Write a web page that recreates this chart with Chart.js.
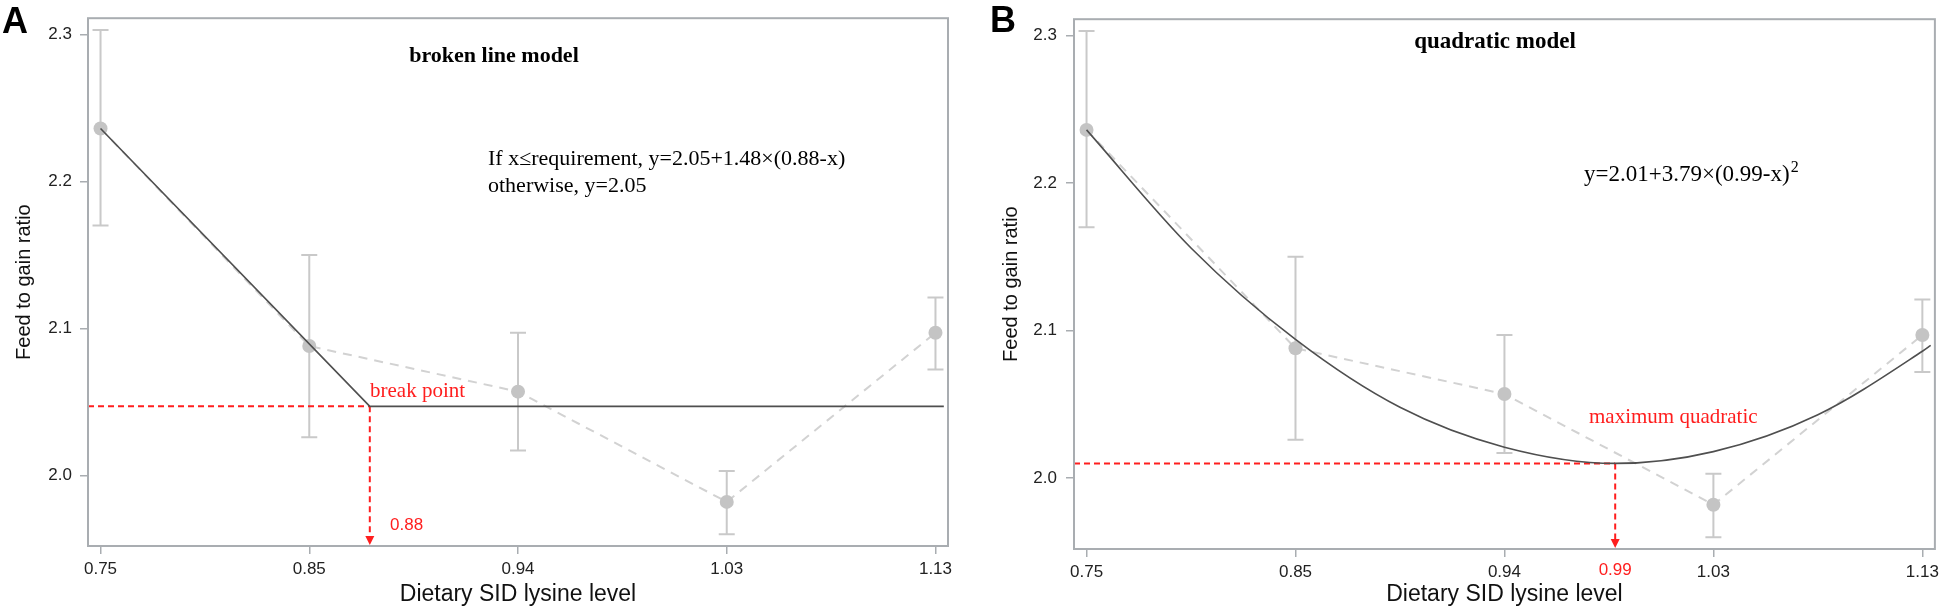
<!DOCTYPE html>
<html>
<head>
<meta charset="utf-8">
<script src="https://cdn.jsdelivr.net/npm/chart.js@4.4.1/dist/chart.umd.min.js"></script>
<style>
  html, body { margin: 0; padding: 0; background: #fff; }
  #wrap { position: relative; width: 1944px; height: 611px; }
  .panel { position: absolute; top: 0; width: 972px; height: 611px; }
  #panelA { left: 0; }
  #panelB { left: 972px; }
</style>
</head>
<body>
<div id="wrap">
  <div class="panel" id="panelA"><canvas id="chartA"></canvas></div>
  <div class="panel" id="panelB"><canvas id="chartB"></canvas></div>
</div>
<script>
// lysine levels are drawn evenly spaced, x values below are in category units (0 = 0.75 ... 4 = 1.13)
const levels = ['0.75', '0.85', '0.94', '1.03', '1.13'];
const means = [2.236, 2.088, 2.057, 1.982, 2.097];
const upper = [2.303, 2.150, 2.097, 2.003, 2.121];
const lower = [2.170, 2.026, 2.017, 1.960, 2.072];

// broken line fit
const brokenX = [0, 1.29, 4.04];
const brokenY = [2.236, 2.047, 2.047];
const breakPoint = { x: 1.29, y: 2.047, label: '0.88' };

// quadratic fit
const quadX = [0, 0.5, 1, 1.5, 2, 2.53, 3, 3.5, 4, 4.04];
const quadY = [2.236, 2.156, 2.094, 2.048, 2.021, 2.010, 2.018, 2.043, 2.086, 2.090];
const quadMin = { x: 2.53, y: 2.010, label: '0.99' };

const xMin = -0.06, xMax = 4.06, yMin = 1.952, yMax = 2.311;
const yTicks = [2.0, 2.1, 2.2, 2.3];

const frameColor = '#a9adb1';
const red = '#ff1e1e';
const serif = '"Liberation Serif", "Times New Roman", serif';
const sans = '"Liberation Sans", Arial, sans-serif';

const pts = (xs, ys) => xs.map((x, i) => ({ x: x, y: ys[i] }));
const panels = {};

function text(ctx, str, x, y, font, color, align) {
  ctx.save();
  ctx.font = font;
  ctx.fillStyle = color;
  ctx.textAlign = align || 'left';
  ctx.textBaseline = 'middle';
  ctx.fillText(str, x, y);
  ctx.restore();
}

const decor = {
  id: 'decor',
  beforeDatasetsDraw(chart) {
    const { ctx, scales: { x, y } } = chart;
    ctx.save();
    ctx.strokeStyle = '#c9c9c9';
    ctx.lineWidth = 2;
    means.forEach((m, i) => {
      const px = x.getPixelForValue(i);
      const top = y.getPixelForValue(upper[i]);
      const bot = y.getPixelForValue(lower[i]);
      ctx.beginPath();
      ctx.moveTo(px, top); ctx.lineTo(px, bot);
      ctx.moveTo(px - 8, top); ctx.lineTo(px + 8, top);
      ctx.moveTo(px - 8, bot); ctx.lineTo(px + 8, bot);
      ctx.stroke();
    });
    ctx.restore();
  },
  afterDraw(chart) {
    const { ctx, chartArea: a, scales: { x } } = chart;
    const p = panels[chart.canvas.id];
    ctx.save();
    ctx.strokeStyle = frameColor;
    ctx.lineWidth = 2;
    ctx.strokeRect(a.left, a.top, a.right - a.left, a.bottom - a.top);
    // arrow head of the red drop line
    const ax = x.getPixelForValue(p.guide.x);
    ctx.fillStyle = red;
    ctx.beginPath();
    ctx.moveTo(ax - 4.5, a.bottom - 10);
    ctx.lineTo(ax + 4.5, a.bottom - 10);
    ctx.lineTo(ax, a.bottom - 1);
    ctx.closePath();
    ctx.fill();
    ctx.restore();
    p.draw(ctx, a, x);
  }
};

function makeChart(id, cfg) {
  panels[id] = cfg;
  return new Chart(document.getElementById(id), {
    type: 'line',
    data: {
      datasets: [
        {
          data: pts(cfg.fitX, cfg.fitY),
          borderColor: '#4f4f4f',
          borderWidth: 1.6,
          pointRadius: 0,
          cubicInterpolationMode: cfg.curved ? 'monotone' : 'default',
          tension: 0
        },
        {
          data: means.map((m, i) => ({ x: i, y: m })),
          borderColor: '#d2d2d2',
          borderWidth: 2,
          borderDash: [9, 7],
          pointRadius: 7,
          pointBackgroundColor: '#c4c4c4',
          pointBorderWidth: 0,
          tension: 0
        },
        {
          data: [{ x: xMin, y: cfg.guide.y }, { x: cfg.guide.x, y: cfg.guide.y }],
          borderColor: red,
          borderWidth: 2,
          borderDash: [6, 4],
          pointRadius: 0
        },
        {
          data: [{ x: cfg.guide.x, y: cfg.guide.y }, { x: cfg.guide.x, y: yMin + 0.006 }],
          borderColor: red,
          borderWidth: 2,
          borderDash: [6, 4],
          pointRadius: 0
        }
      ]
    },
    options: {
      responsive: true,
      maintainAspectRatio: false,
      animation: false,
      layout: { padding: { top: cfg.padTop, right: cfg.padRight, left: 0, bottom: 0 } },
      plugins: {
        legend: { display: false },
        tooltip: { enabled: false }
      },
      scales: {
        x: {
          type: 'linear',
          min: xMin,
          max: xMax,
          afterBuildTicks: s => { s.ticks = levels.map((l, i) => ({ value: i })); },
          afterFit: s => { s.height = cfg.xHeight; },
          border: { display: false },
          grid: { drawOnChartArea: false, drawTicks: true, tickLength: 8, color: frameColor, lineWidth: 1.5 },
          ticks: {
            padding: 5,
            color: '#222',
            font: { family: sans, size: 17 },
            maxRotation: 0,
            callback: v => levels[v]
          },
          title: {
            display: true,
            text: 'Dietary SID lysine level',
            color: '#111',
            font: { family: sans, size: 23 },
            padding: { top: 0, bottom: 3 }
          }
        },
        y: {
          min: yMin,
          max: yMax,
          afterBuildTicks: s => { s.ticks = yTicks.map(v => ({ value: v })); },
          afterFit: s => { s.width = cfg.yWidth; },
          border: { display: false },
          grid: { drawOnChartArea: false, drawTicks: true, tickLength: 8, color: frameColor, lineWidth: 1.5 },
          ticks: {
            padding: cfg.yTickPad,
            color: '#222',
            font: { family: sans, size: 17 },
            callback: v => v.toFixed(1)
          },
          title: {
            display: true,
            text: 'Feed to gain ratio',
            color: '#111',
            font: { family: sans, size: 20 },
            padding: { top: cfg.yTitlePad, bottom: 0 }
          }
        }
      }
    },
    plugins: [decor]
  });
}

makeChart('chartA', {
  fitX: brokenX, fitY: brokenY, curved: false,
  guide: breakPoint,
  padTop: 8, padRight: 24, xHeight: 65, yWidth: 88, yTickPad: 8, yTitlePad: 12,
  draw(ctx, a, x) {
    text(ctx, 'A', 2, 23, 'bold 36px ' + sans, '#000');
    text(ctx, 'broken line model', 494, 56, 'bold 22px ' + serif, '#000', 'center');
    text(ctx, 'If x\u2264requirement, y=2.05+1.48\u00d7(0.88-x)', 488, 159, '22px ' + serif, '#000');
    text(ctx, 'otherwise, y=2.05', 488, 186, '22px ' + serif, '#000');
    text(ctx, 'break point', 370, 391, '21px ' + serif, red);
    text(ctx, breakPoint.label, 390, 525, '17px ' + sans, red);
  }
});

makeChart('chartB', {
  fitX: quadX, fitY: quadY, curved: true,
  guide: quadMin,
  padTop: 9, padRight: 5, xHeight: 62, yWidth: 102, yTickPad: 9, yTitlePad: 27,
  draw(ctx, a, x) {
    text(ctx, 'B', 18, 22, 'bold 36px ' + sans, '#000');
    text(ctx, 'quadratic model', 523, 42, 'bold 23px ' + serif, '#000', 'center');
    const eq = 'y=2.01+3.79\u00d7(0.99-x)';
    text(ctx, eq, 612, 175, '23px ' + serif, '#000');
    ctx.save();
    ctx.font = '23px ' + serif;
    const w = ctx.measureText(eq).width;
    ctx.restore();
    text(ctx, '2', 612 + w + 1, 168, '16px ' + serif, '#000');
    text(ctx, 'maximum quadratic', 617, 417, '21px ' + serif, red);
    text(ctx, quadMin.label, x.getPixelForValue(quadMin.x), 570, '17px ' + sans, red, 'center');
  }
});
</script>
</body>
</html>
